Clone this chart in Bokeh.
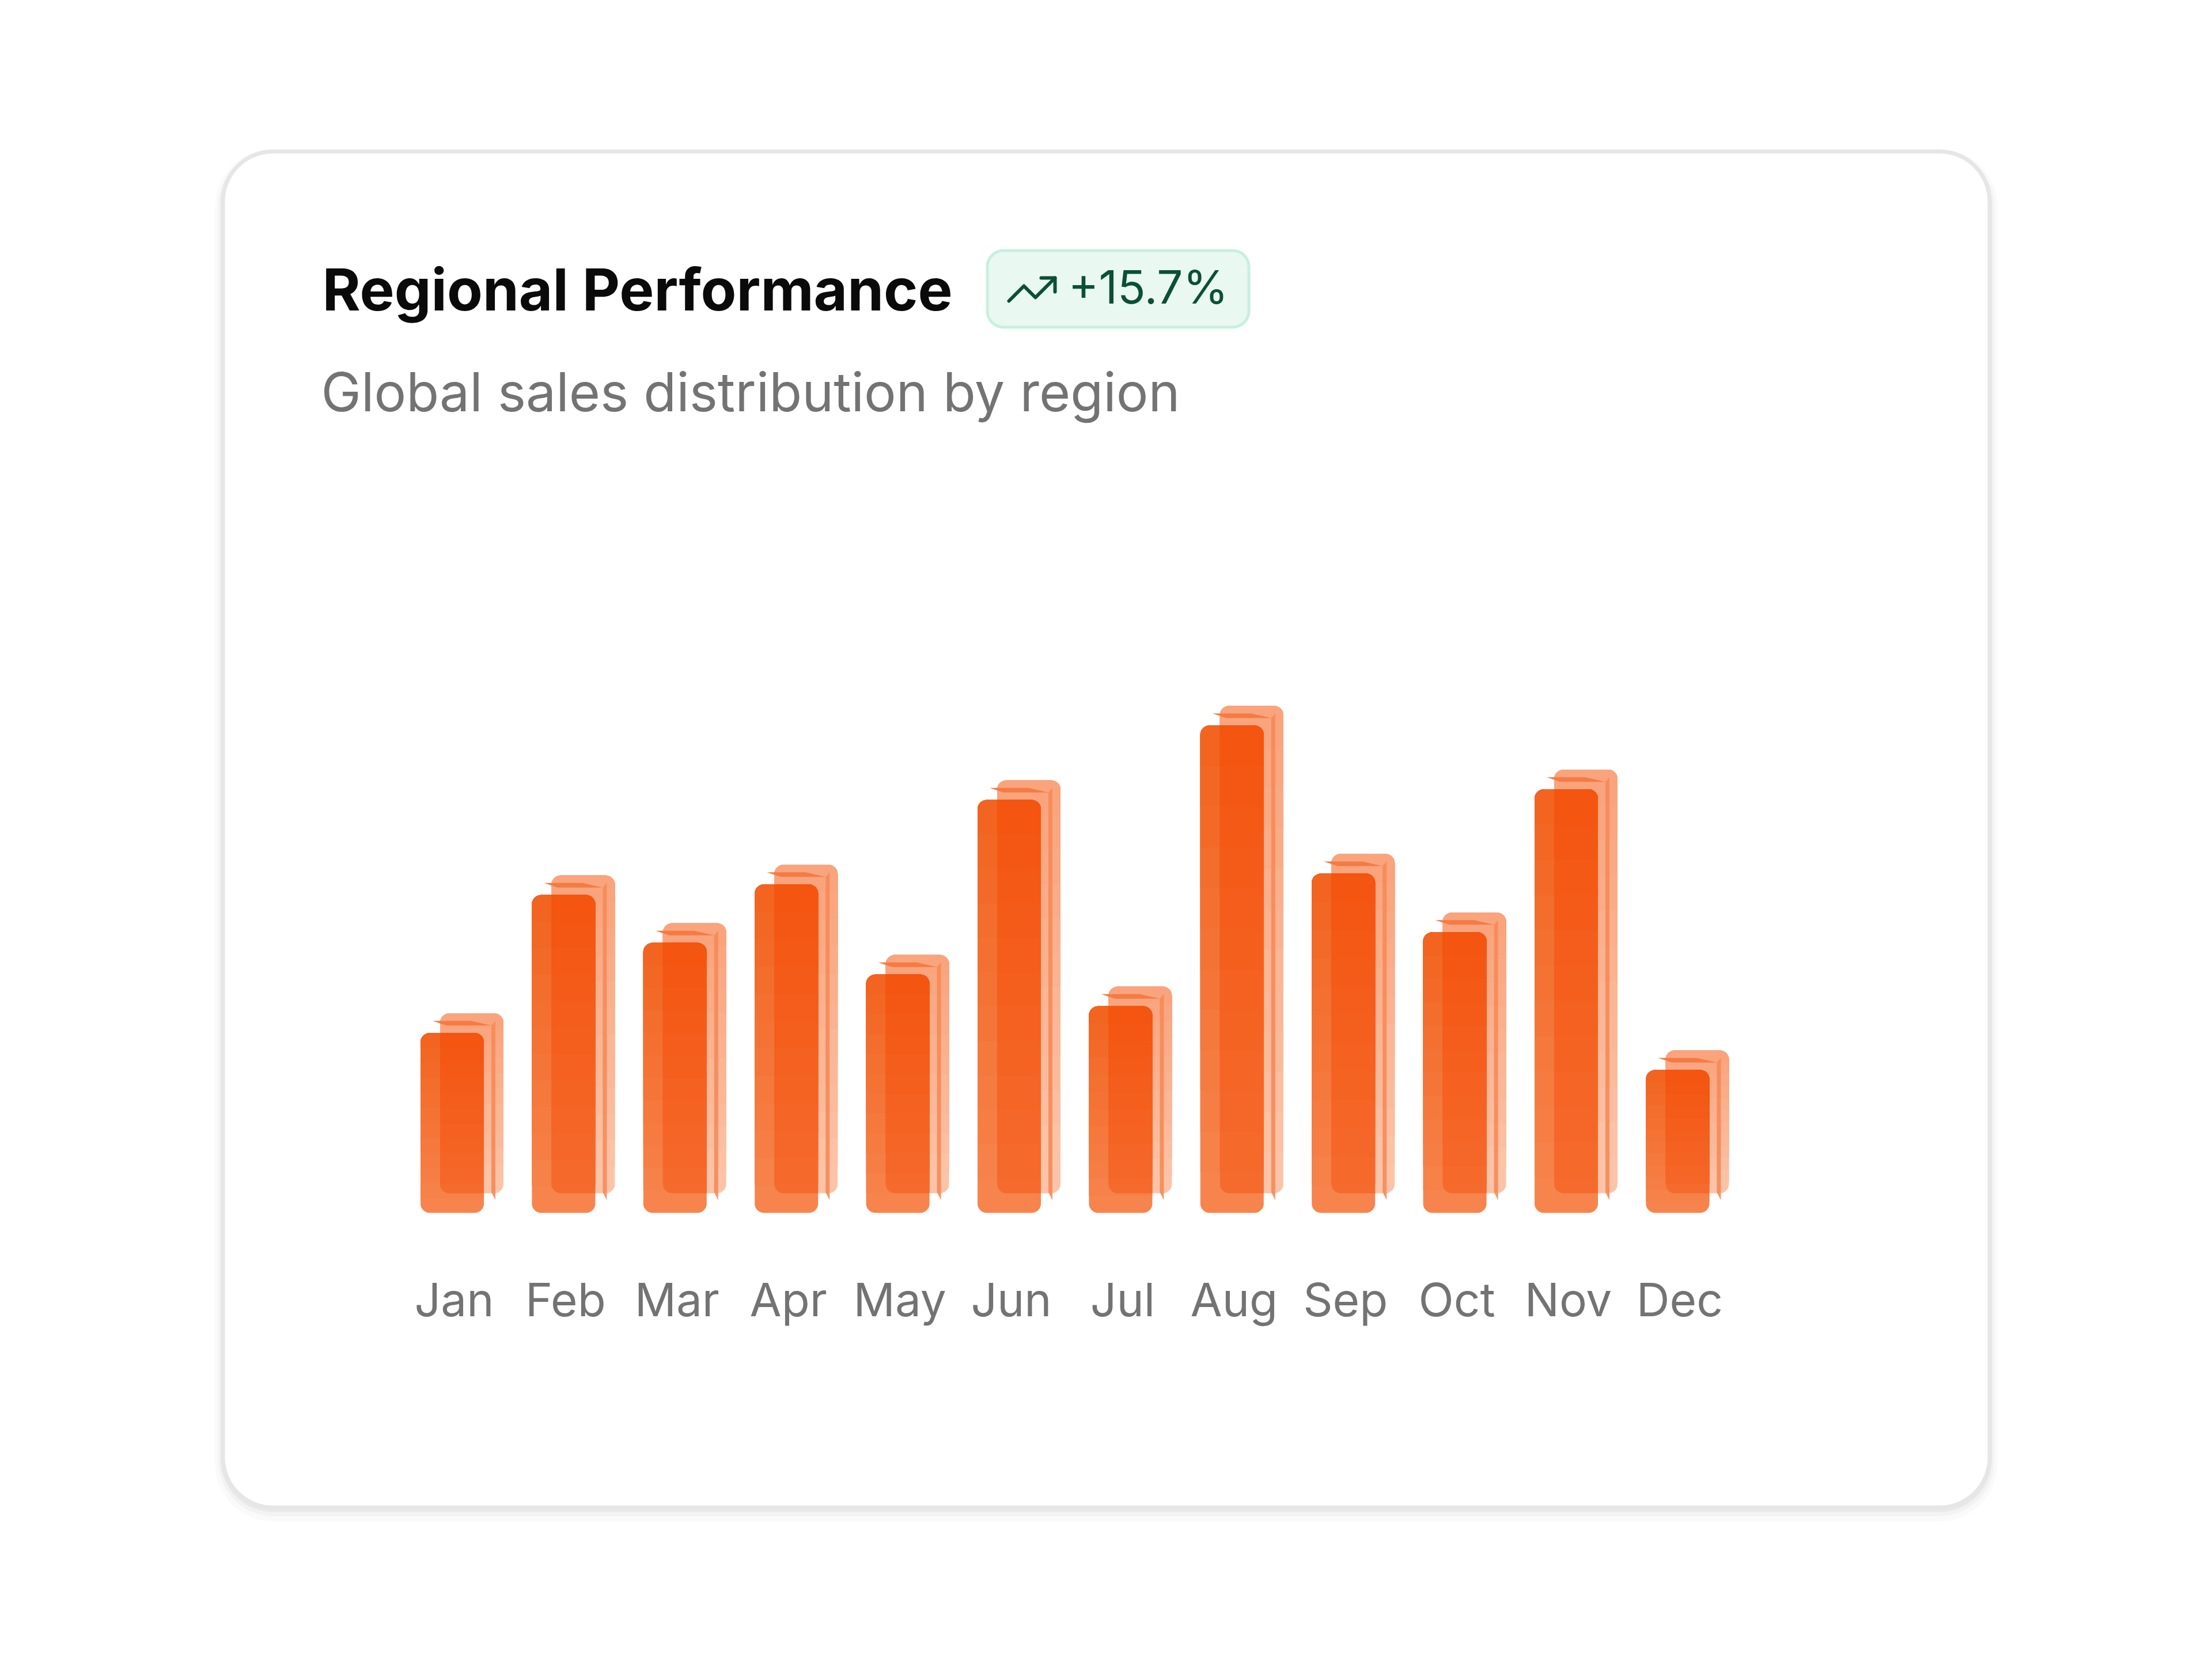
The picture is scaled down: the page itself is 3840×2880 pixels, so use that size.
import numpy as np
from bokeh.plotting import figure
from bokeh.models import Range1d
from bokeh.core.properties import value
from bokeh.embed import file_html
from bokeh.resources import INLINE

# data
months = ["Jan", "Feb", "Mar", "Apr", "May", "Jun",
          "Jul", "Aug", "Sep", "Oct", "Nov", "Dec"]
sales = [36.9, 65.2, 55.4, 67.4, 48.9, 84.7, 42.4, 100.0, 69.6, 57.6, 86.9, 29.3]
title_text = "Regional Performance"
subtitle_text = "Global sales distribution by region"
badge_text = "+15.7%"

W, H = 3824, 2864
XS = 193.4   # px per month slot
YS = 8.461   # px per sales unit
x0 = -788 / XS
y0 = -(H - 2105) / YS

p = figure(width=W, height=H,
           x_range=Range1d(x0, x0 + W / XS), y_range=Range1d(y0, y0 + H / YS),
           output_backend="svg", toolbar_location=None,
           x_axis_location=None, y_axis_location=None, min_border=0,
           outline_line_color=None, background_fill_color="white",
           border_fill_color="white")
p.xgrid.grid_line_color = None
p.ygrid.grid_line_color = None
# pixel space for the card decorations (y runs downwards)
p.extra_x_ranges["px"] = Range1d(0, W)
p.extra_y_ranges["px"] = Range1d(H, 0)
PX = dict(x_range_name="px", y_range_name="px")
FONT = value("Inter")
BASE = 0.4  # svg text sits this many em below the requested baseline

# card with soft shadow
for grow, dy, a in [(14, 10, 0.018), (8, 7, 0.028), (4, 4, 0.04)]:
    p.quad(left=386.5 - grow, right=3453.5 + grow, top=262.5 - grow + dy,
           bottom=2616.5 + grow + dy, border_radius=87 + grow,
           fill_color="black", fill_alpha=a, line_color=None, **PX)
p.quad(left=386.5, right=3453.5, top=262.5, bottom=2616.5, border_radius=87,
       fill_color="white", line_color="#e6e6e6", line_width=7, **PX)

# header
p.text(x=[559], y=[542 - BASE * 101], text=[title_text], text_font=FONT,
       text_font_size=value("101px"), text_font_style="bold",
       text_color="#0a0a0a", text_baseline="alphabetic", **PX)
p.text(x=[557], y=[717 - BASE * 93], text=[subtitle_text], text_font=FONT,
       text_font_size=value("93px"), text_color="#737373",
       text_baseline="alphabetic", **PX)

# badge
p.quad(left=1713.5, right=2167.5, top=434.5, bottom=567.5, border_radius=28,
       fill_color="#e9f8f1", line_color="#c8efdf", line_width=5, **PX)
p.text(x=[1854], y=[529 - BASE * 80], text=[badge_text], text_font=FONT,
       text_font_size=value("80px"), text_color="#0b4f37",
       text_baseline="alphabetic", **PX)
u, ox, oy = 4.0, 1743, 454
icon = [[(2, 17), (8.5, 10.5), (13.5, 15.5), (22, 7)], [(16, 7), (22, 7), (22, 13)]]
p.multi_line(xs=[[ox + a * u for a, b in seg] for seg in icon],
             ys=[[oy + b * u for a, b in seg] for seg in icon],
             line_color="#0b4f37", line_width=6, line_cap="round",
             line_join="round", **PX)


def hexrgb(h):
    return np.array([int(h[i:i + 2], 16) for i in (1, 3, 5)], dtype=float)


def blend(c0, c1, t):
    c = hexrgb(c0) * (1 - t) + hexrgb(c1) * t
    return "#%02x%02x%02x" % tuple(int(round(x)) for x in c)


idx = np.arange(len(months))
v = np.array(sales)
R = 16
N = 12
bw = 110 / XS
front_x = idx - 3.5 / XS
back_x = idx + 30.5 / XS
lift = 34 / YS
over_x = idx + 13.5 / XS
over_w = 76 / XS

# back bars (gradient by nesting)
for k in range(N):
    t = (k + 0.5) / N
    p.vbar(x=back_x, width=bw, bottom=lift + v * k / N, top=v + lift,
           fill_color=blend("#fbc6ab", "#f9a27b", t), line_color=None,
           border_radius=(R, R, R, R) if k == 0 else (R, R, 0, 0))
# front bars
for k in range(N):
    t = (k + 0.5) / N
    p.vbar(x=front_x, width=bw, bottom=v * k / N, top=v,
           fill_color=blend("#f7854f", "#f2631e", t), line_color=None,
           border_radius=(R, R, R, R) if k == 0 else (R, R, 0, 0))
# overlap of front and back bars
for k in range(N):
    t = (k + 0.5) / N
    bot = lift if k == 0 else np.maximum(v * k / N, lift + R / YS)
    p.vbar(x=over_x, width=over_w, bottom=bot, top=v,
           fill_color=blend("#f56c2f", "#f4540f", t), line_color=None,
           border_radius=(0, R, 0, R) if k == 0 else (0, R, 0, 0))

# thin top and side faces
L = idx - 58.5 / XS
Rt = idx + 51.5 / XS
top_xs = [[l + 21 / XS, l + 88 / XS, l + 123 / XS, l + 45 / XS] for l in L]
top_ys = [[h + 21 / YS, h + 21 / YS, h + 13 / YS, h + 13 / YS] for h in v]
p.patches(xs=top_xs, ys=top_ys, fill_color="#f47b45", line_color=None)
side_xs = [[r + 13 / XS, r + 20 / XS, r + 20 / XS, r + 13 / XS] for r in Rt]
side_ys = [[h + 13 / YS, h + 21 / YS, 22 / YS, 36 / YS] for h in v]
p.patches(xs=side_xs, ys=side_ys, fill_color="#f68a58", fill_alpha=0.9,
          line_color=None)

# month labels
p.text(x=idx, y=np.full(len(months), -(182 - BASE * 80) / YS), text=months,
       text_font=FONT, text_font_size=value("80px"), text_color="#737373",
       text_align="center", text_baseline="alphabetic")

open("out.html", "w").write(file_html(p, INLINE))
